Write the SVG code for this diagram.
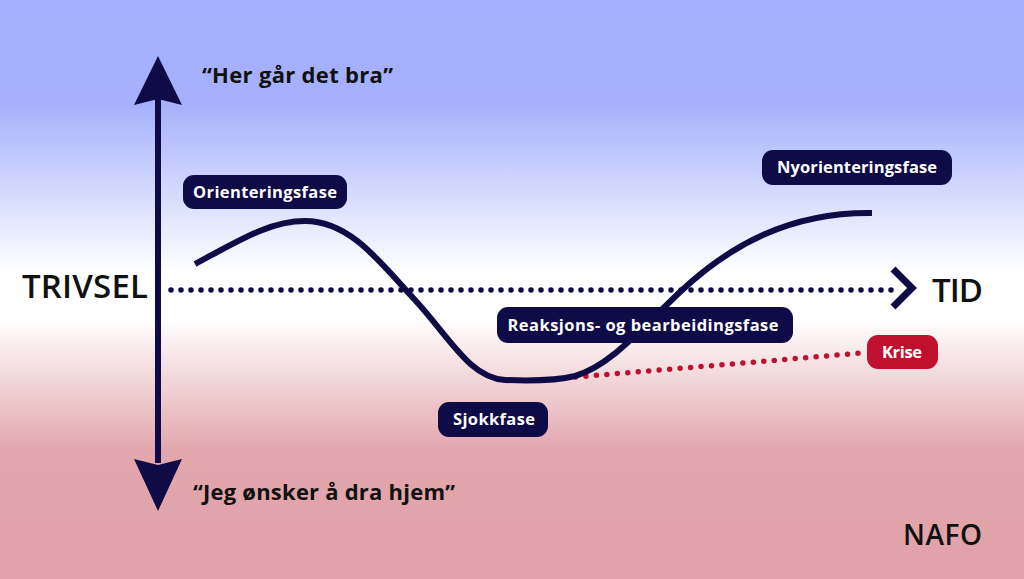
<svg xmlns="http://www.w3.org/2000/svg" width="1024" height="579" viewBox="0 0 1024 579">
<defs>
<linearGradient id="bg" x1="0" y1="0" x2="0" y2="1">
<stop offset="0" stop-color="#a2affe"/>
<stop offset="0.18" stop-color="#a5b1fc"/>
<stop offset="0.47" stop-color="#ffffff"/>
<stop offset="0.55" stop-color="#ffffff"/>
<stop offset="0.78" stop-color="#e2a6ac"/>
<stop offset="1" stop-color="#e0a2a8"/>
</linearGradient>
<style>
.lbl{fill:#0f0b47}
.lt{fill:#ffffff;font-family:"Open Sans","Noto Sans",sans-serif;font-weight:700;font-size:16.5px;text-anchor:middle}
.big{fill:#111111;font-family:"Open Sans","Noto Sans",sans-serif;font-weight:600}
.q{fill:#111111;font-family:"Open Sans","Noto Sans",sans-serif;font-weight:700;font-size:22px}
</style>
</defs>
<rect width="1024" height="579" fill="url(#bg)"/>
<g id="connectors">
<g id="y-axis" fill="#0f0b47">
<rect x="155" y="98" width="6" height="365"/>
<path d="M158,56 L182,105 L158,99 L134,105 Z"/>
<path d="M158,511 L182,459 L158,465 L134,459 Z"/>
</g>
<g id="x-axis">
<line x1="171" y1="290" x2="900" y2="290" stroke="#0f0b47" stroke-width="5.5" stroke-linecap="round" stroke-dasharray="0 10"/>
<path d="M893,269 L912,288 L893,307" fill="none" stroke="#0f0b47" stroke-width="7" stroke-linecap="butt" stroke-linejoin="miter"/>
</g>
<line id="krise-line" x1="565" y1="378" x2="862" y2="353" stroke="#c0102f" stroke-width="5.5" stroke-linecap="round" stroke-dasharray="0 10.5"/>
<path id="curve" d="M195,264 C240,240 270,221 305,221 C350,221 380,262 415,300 C450,338 470,378 505,380 C530,381 555,381 575,376 C610,366 640,330 680,292 C730,245 790,212 872,213" fill="none" stroke="#0f0b47" stroke-width="6"/>
</g>
<g id="orienteringsfase">
<rect class="lbl" x="183" y="175" width="164" height="34" rx="11"/>
<text class="lt" x="265" y="198" textLength="144">Orienteringsfase</text>
</g>
<g id="nyorienteringsfase">
<rect class="lbl" x="762" y="150" width="190" height="35" rx="11"/>
<text class="lt" x="857" y="173" textLength="160">Nyorienteringsfase</text>
</g>
<g id="reaksjon">
<rect class="lbl" x="497" y="307" width="296" height="36" rx="11"/>
<text class="lt" x="643" y="331" textLength="271">Reaksjons- og bearbeidingsfase</text>
</g>
<g id="sjokkfase">
<rect class="lbl" x="438" y="402" width="110" height="35" rx="11"/>
<text class="lt" x="494" y="425" textLength="82">Sjokkfase</text>
</g>
<g id="krise">
<rect x="867" y="335" width="71" height="34" rx="11" fill="#c0102f"/>
<text class="lt" x="902" y="358" textLength="40">Krise</text>
</g>
<g id="texts">
<text class="q" x="202" y="83" textLength="191">“Her går det bra”</text>
<text class="q" x="193" y="500" textLength="262">“Jeg ønsker å dra hjem”</text>
<text class="big" x="22" y="298" font-size="33" textLength="126">TRIVSEL</text>
<text class="big" x="932" y="302" font-size="33" textLength="51">TID</text>
<text class="big" x="903" y="545" font-size="28" textLength="79">NAFO</text>
</g>
</svg>
